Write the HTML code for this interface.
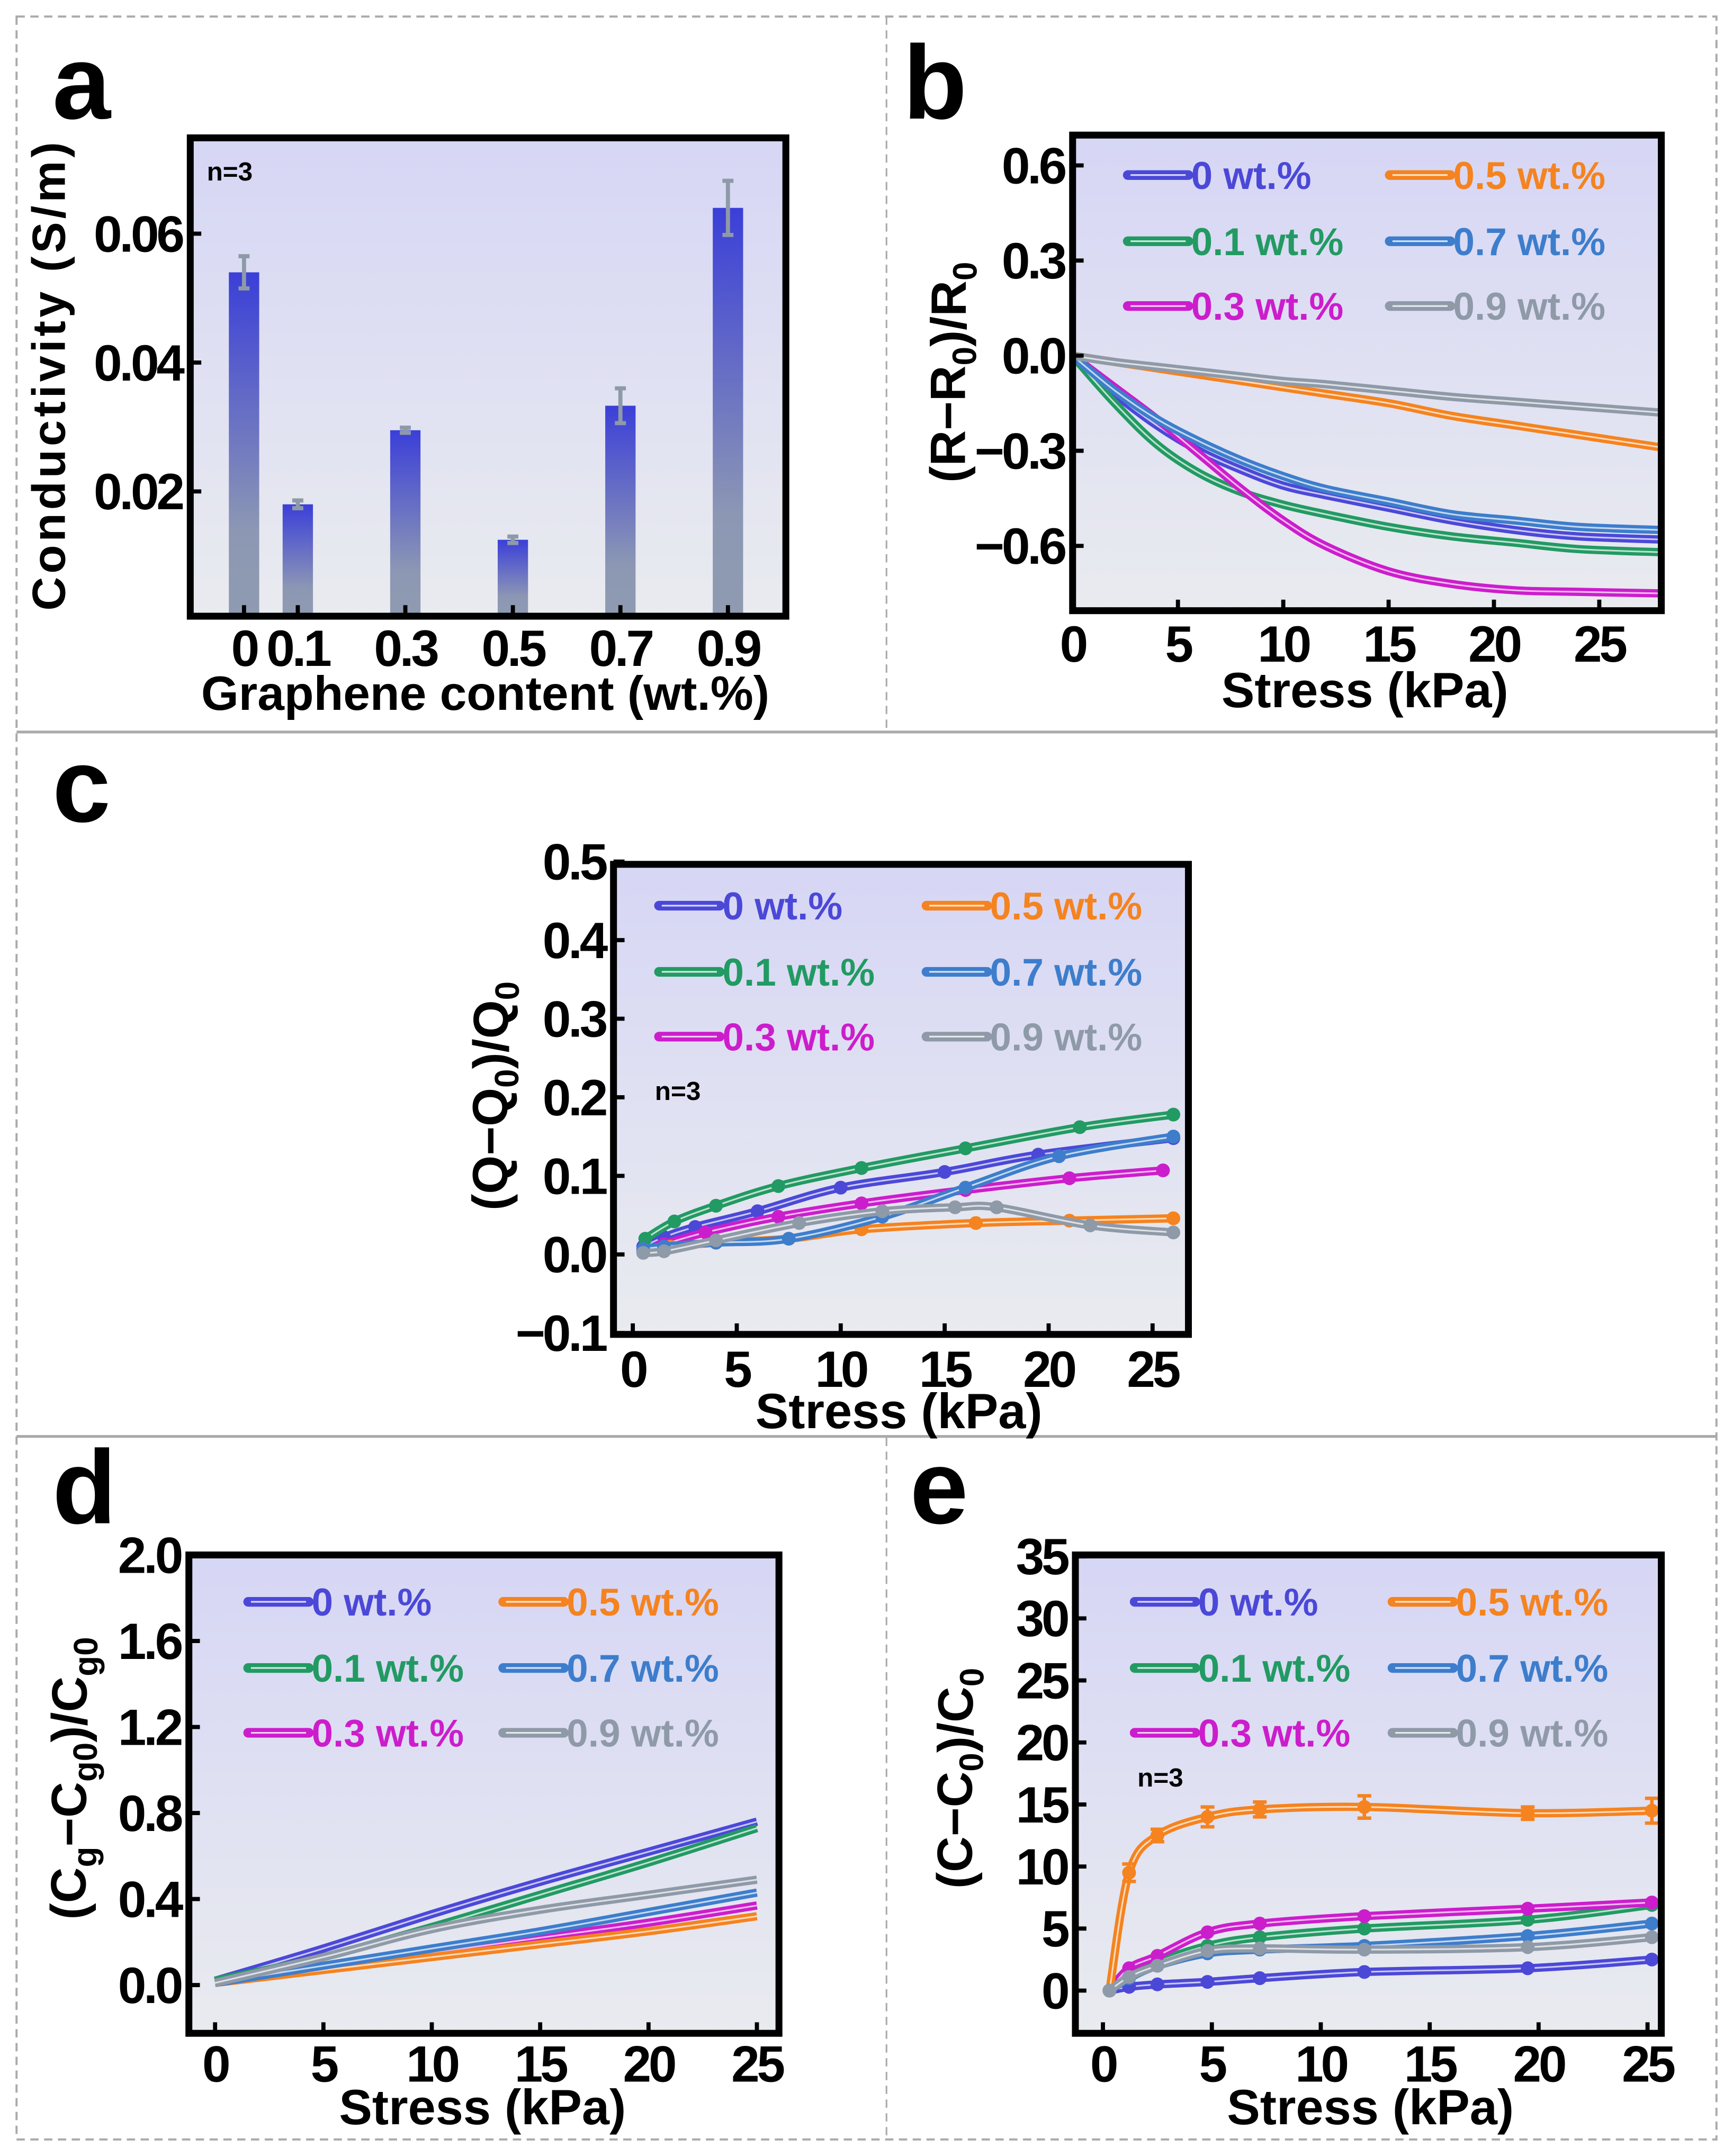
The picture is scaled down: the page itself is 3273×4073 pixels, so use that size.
<!DOCTYPE html>
<html><head><meta charset="utf-8">
<style>
html,body{margin:0;padding:0;background:#fff;}
svg{display:block;}
text{font-family:"Liberation Sans",Arial,sans-serif;font-weight:bold;}
</style></head>
<body>
<svg id="fig" xmlns="http://www.w3.org/2000/svg" width="3273" height="4073" viewBox="0 0 1257 1564" preserveAspectRatio="none">
<defs>
<linearGradient id="bg" x1="0" y1="0" x2="0" y2="1"><stop offset="0" stop-color="#d6d6f5"/><stop offset="1" stop-color="#e9ebef"/></linearGradient>
<linearGradient id="barg" x1="0" y1="0" x2="0" y2="1"><stop offset="0" stop-color="#3b3fd8"/><stop offset="0.75" stop-color="#8c97b4"/><stop offset="1" stop-color="#8f9bb0"/></linearGradient>
</defs>
<g fill="none">
<rect x="12" y="12" width="1233" height="1540" stroke="#aaa" stroke-width="1.5" stroke-dasharray="6,4"/>
<line x1="643" y1="12" x2="643" y2="532" stroke="#aaa" stroke-width="1.2" stroke-dasharray="6,4"/>
<line x1="643" y1="1043" x2="643" y2="1552" stroke="#aaa" stroke-width="1.2" stroke-dasharray="6,4"/>
<line x1="12" y1="531" x2="1245" y2="531" stroke="#aaa" stroke-width="2"/>
<line x1="12" y1="1042" x2="1245" y2="1042" stroke="#aaa" stroke-width="2"/>
</g>
</svg>
<script>
// ---------- Panel a data ----------
const aCats = [0, 0.1, 0.3, 0.5, 0.7, 0.9];
const aVals = [0.054, 0.018, 0.0295, 0.0125, 0.0333, 0.064];
const aErr = [0.0025, 0.0006, 0.0004, 0.0005, 0.0027, 0.0042];
const aYTicks = [0.02, 0.04, 0.06];
const aYTickLabels = ["0.02", "0.04", "0.06"];
const aXTickLabels = ["0", "0.1", "0.3", "0.5", "0.7", "0.9"];

// ---------- Legend ----------
const seriesNames = ["0 wt.%", "0.1 wt.%", "0.3 wt.%", "0.5 wt.%", "0.7 wt.%", "0.9 wt.%"];
const seriesColors = ["#4b48d8", "#229a63", "#cc1dcc", "#f5831f", "#3d7dcc", "#8f9aa8"];

// ---------- Panel b data ----------
const bX = [0, 2, 4, 6, 8, 10, 12, 15, 18, 21, 24, 28];
const bY0 = [0, -0.12, -0.22, -0.3, -0.36, -0.41, -0.44, -0.48, -0.52, -0.55, -0.57, -0.58];
const bY1 = [0, -0.15, -0.28, -0.37, -0.43, -0.47, -0.5, -0.54, -0.57, -0.59, -0.61, -0.62];
const bY3 = [0, -0.1, -0.2, -0.31, -0.42, -0.52, -0.6, -0.68, -0.72, -0.74, -0.745, -0.75];
const bY5 = [0, -0.02, -0.04, -0.06, -0.08, -0.1, -0.12, -0.15, -0.19, -0.22, -0.25, -0.29];
const bY7 = [0, -0.11, -0.2, -0.27, -0.33, -0.38, -0.42, -0.46, -0.5, -0.52, -0.54, -0.55];
const bY9 = [0, -0.02, -0.035, -0.05, -0.065, -0.08, -0.09, -0.11, -0.13, -0.145, -0.16, -0.18];
const bYTicks = [0.6, 0.3, 0, -0.3, -0.6];
const bYTickLabels = ["0.6", "0.3", "0.0", "\u22120.3", "\u22120.6"];
const bXTicks = [0, 5, 10, 15, 20, 25];

// ---------- Panel c data ----------
const cX0 = [0.5, 1.5, 3, 6, 10, 15, 19.5, 26];
const cY0 = [0.01, 0.022, 0.035, 0.055, 0.085, 0.105, 0.127, 0.148];
const cX1 = [0.6, 2, 4, 7, 11, 16, 21.5, 26];
const cY1 = [0.02, 0.042, 0.062, 0.087, 0.11, 0.135, 0.162, 0.178];
const cX3 = [0.5, 1.5, 3.5, 7, 11, 16, 21, 25.5];
const cY3 = [0.005, 0.013, 0.028, 0.048, 0.065, 0.082, 0.097, 0.107];
const cX5 = [0.5, 1.8, 4, 7.5, 11, 16.5, 21, 26];
const cY5 = [0.004, 0.01, 0.015, 0.02, 0.032, 0.04, 0.043, 0.046];
const cX7 = [0.5, 1.5, 4, 7.5, 12, 16, 20.5, 26];
const cY7 = [0.007, 0.01, 0.015, 0.02, 0.048, 0.085, 0.125, 0.15];
const cX9 = [0.5, 1.5, 4, 8, 12, 15.5, 17.5, 22, 26];
const cY9 = [0.002, 0.004, 0.018, 0.04, 0.055, 0.06, 0.06, 0.037, 0.028];
const cYTicks = [0.5, 0.4, 0.3, 0.2, 0.1, 0, -0.1];
const cYTickLabels = ["0.5", "0.4", "0.3", "0.2", "0.1", "0.0", "\u22120.1"];
const cXTicks = [0, 5, 10, 15, 20, 25];

// ---------- Panel d data ----------
const dX = [0, 5, 10, 15, 20, 25];
const dY0 = [0.02, 0.17, 0.33, 0.48, 0.62, 0.76];
const dY1 = [0.02, 0.13, 0.27, 0.42, 0.57, 0.73];
const dY3 = [0.01, 0.08, 0.15, 0.22, 0.29, 0.37];
const dY5 = [0.01, 0.07, 0.13, 0.19, 0.25, 0.32];
const dY7 = [0.01, 0.09, 0.17, 0.25, 0.34, 0.43];
const dY9 = [0.01, 0.13, 0.26, 0.35, 0.42, 0.49];
const dYTicks = [2.0, 1.6, 1.2, 0.8, 0.4, 0.0];
const dYTickLabels = ["2.0", "1.6", "1.2", "0.8", "0.4", "0.0"];
const dXTicks = [0, 5, 10, 15, 20, 25];

// ---------- Panel e data ----------
const eX = [0.3, 1.2, 2.5, 4.8, 7.2, 12, 19.5, 25.2];
const eY0 = [0, 0.3, 0.5, 0.7, 1.0, 1.5, 1.8, 2.5];
const eY1 = [0, 1.2, 2.3, 3.6, 4.3, 5.0, 5.7, 6.9];
const eY3 = [0, 1.8, 2.8, 4.7, 5.4, 6.0, 6.6, 7.1];
const eY5 = [0, 9.5, 12.5, 14.0, 14.6, 14.8, 14.3, 14.5];
const eE5 = [0, 0.7, 0.5, 0.8, 0.6, 0.9, 0.5, 1.0];
const eY7 = [0, 1.0, 2.0, 3.0, 3.3, 3.6, 4.4, 5.4];
const eY9 = [0, 1.1, 2.0, 3.2, 3.4, 3.3, 3.5, 4.3];
const eYTicks = [35, 30, 25, 20, 15, 10, 5, 0];
const eYTickLabels = ["35", "30", "25", "20", "15", "10", "5", "0"];
const eXTicks = [0, 5, 10, 15, 20, 25];

const NS = "http://www.w3.org/2000/svg";
const svg = document.getElementById("fig");
function mk(tag, attrs, parent) {
  const e = document.createElementNS(NS, tag);
  for (const k in attrs) e.setAttribute(k, attrs[k]);
  (parent || svg).appendChild(e);
  return e;
}
function lin(d0, d1, r0, r1) { return v => r0 + (v - d0) * (r1 - r0) / (d1 - d0); }
function smoothPath(pts) {
  let d = "M" + pts[0][0] + "," + pts[0][1];
  for (let i = 0; i < pts.length - 1; i++) {
    const p0 = pts[Math.max(0, i - 1)], p1 = pts[i], p2 = pts[i + 1], p3 = pts[Math.min(pts.length - 1, i + 2)];
    const c1x = p1[0] + (p2[0] - p0[0]) / 6, c1y = p1[1] + (p2[1] - p0[1]) / 6;
    const c2x = p2[0] - (p3[0] - p1[0]) / 6, c2y = p2[1] - (p3[1] - p1[1]) / 6;
    d += " C" + c1x + "," + c1y + " " + c2x + "," + c2y + " " + p2[0] + "," + p2[1];
  }
  return d;
}
function frame(g, x0, y0, x1, y1) {
  const bgr = mk("rect", {x: x0, y: y0, width: x1 - x0, height: y1 - y0, fill: "url(#bg)"}, g);
  
  
}
function border(g, x0, y0, x1, y1) {
  const r = mk("rect", {x: x0, y: y0, width: x1 - x0, height: y1 - y0, fill: "none", stroke: "#000", "stroke-width": 5}, g);
  
  
}
function label(txt, x, y) {
  const t = mk("text", {x: x, y: y, "font-size": 76});
  t.textContent = txt;
  
  
}
function yTicks(g, ys, labels, vals, xLeft) {
  vals.forEach((v, i) => {
    const y = ys(v);
    const tk = mk("line", {x1: xLeft, x2: xLeft + 8, y1: y, y2: y, stroke: "#000", "stroke-width": 3}, g);
    
    
    const t = mk("text", {x: xLeft - 6, y: y + 13, "font-size": 37, "text-anchor": "end", "letter-spacing": -2}, g);
    t.textContent = labels[i];
    
    
  });
}
function xTicks(g, xs, vals, labels, yBottom, ly) {
  vals.forEach((v, i) => {
    const x = xs(v);
    const tk = mk("line", {x1: x, x2: x, y1: yBottom, y2: yBottom - 8, stroke: "#000", "stroke-width": 3}, g);
    
    
    const t = mk("text", {x: x, y: ly, "font-size": 37, "text-anchor": "middle", "letter-spacing": -2}, g);
    t.textContent = labels ? labels[i] : String(v);
    
    
  });
}
function legend(g, rows, c1, c2) {
  seriesNames.forEach((n, i) => {
    const col = i < 3 ? c1 : c2, y = rows[i % 3];
    const lg = mk("g", {}, g);
    
    
    mk("line", {x1: col, x2: col + 44, y1: y, y2: y, stroke: seriesColors[i], "stroke-width": 7, "stroke-linecap": "round"}, lg);
    mk("line", {x1: col + 2, x2: col + 42, y1: y, y2: y, stroke: "#fff", "stroke-width": 1.2, opacity: 0.8}, lg);
    const t = mk("text", {x: col + 46, y: y + 10, "font-size": 28, fill: seriesColors[i]}, lg);
    t.textContent = n;
  });
}
function series(g, xs, ys, X, Y, color, name, markers, err) {
  const sg = mk("g", {}, g);
  
  
  const pts = X.map((x, i) => [xs(x), ys(Y[i])]);
  const d = smoothPath(pts);
  mk("path", {d: d, fill: "none", stroke: color, "stroke-width": 6, "stroke-linejoin": "round"}, sg);
  mk("path", {d: d, fill: "none", stroke: "#fff", "stroke-width": 1.2, opacity: 0.7}, sg);
  if (err) {
    pts.forEach((p, i) => {
      if (!err[i]) return;
      const e0 = ys(Y[i] + err[i]), e1 = ys(Y[i] - err[i]);
      mk("path", {d: "M" + p[0] + "," + e0 + "V" + e1 + "M" + (p[0] - 5) + "," + e0 + "h10M" + (p[0] - 5) + "," + e1 + "h10", stroke: color, "stroke-width": 2.5, fill: "none"}, sg);
    });
  }
  if (markers) pts.forEach(p => mk("circle", {cx: p[0], cy: p[1], r: 5, fill: color}, sg));
}
function ytitle(g, x, y, parts, size, len) {
  const t = mk("text", {transform: "translate(" + x + "," + y + ") rotate(-90)", "font-size": size, "text-anchor": "middle"}, g);
  if (len) t.setAttribute("textLength", len);
  parts.forEach(p => {
    const s = mk("tspan", p[1] ? {"font-size": size * 0.68, dy: size * 0.22} : {dy: p[2] || 0}, t);
    s.textContent = p[0];
  });
  
  
  return t;
}
function xtitle(g, x, y, txt, size) {
  const t = mk("text", {x: x, y: y, "font-size": size, "text-anchor": "middle"}, g);
  t.textContent = txt;
  
  
}
function note(g, x, y) {
  const t = mk("text", {x: x, y: y, "font-size": 19}, g);
  t.textContent = "n=3";
  
  
}

// ===== Panel a =====
(function () {
  const g = mk("g", {});
  
  
  const x0 = 138, y0 = 100, x1 = 570, y1 = 447;
  const xs = lin(0, 0.9, 177, 528), ys = lin(0, 0.02, 450, 356.5);
  frame(g, x0, y0, x1, y1);
  aCats.forEach((c, i) => {
    const x = xs(c), w = 22;
    const b = mk("rect", {x: x - w / 2, y: ys(aVals[i]), width: w, height: y1 - ys(aVals[i]), fill: "url(#barg)"}, g);
    
    
    const e0 = ys(aVals[i] + aErr[i]), e1 = ys(aVals[i] - aErr[i]);
    const eb = mk("path", {d: "M" + x + "," + e0 + "V" + e1 + "M" + (x - 4) + "," + e0 + "h8M" + (x - 4) + "," + e1 + "h8", stroke: "#8f9aa8", "stroke-width": 3, fill: "none"}, g);
    
    
  });
  note(g, 150, 131);
  border(g, x0, y0, x1, y1);
  yTicks(g, ys, aYTickLabels, aYTicks, x0);
  xTicks(g, xs, aCats, aXTickLabels, y1, 483);
  ytitle(g, 47, 273, [["Conductivity (S/m)"]], 34, 340);
  xtitle(g, 352, 515, "Graphene content (wt.%)", 35);
})();
label("a", 38, 86);

// ===== Panel b =====
(function () {
  const g = mk("g", {});
  
  
  const x0 = 778, y0 = 98, x1 = 1205, y1 = 443;
  const xs = lin(0, 25, 778, 1160), ys = lin(0, 0.3, 258, 189);
  frame(g, x0, y0, x1, y1);
  legend(g, [127, 175, 222], 818, 1008);
  const Ys = [bY0, bY1, bY3, bY5, bY7, bY9];
  Ys.forEach((Y, i) => series(g, xs, ys, bX, Y, seriesColors[i], 'series-' + seriesNames[i].split(' ')[0], false));
  border(g, x0, y0, x1, y1);
  yTicks(g, ys, bYTickLabels, bYTicks, x0);
  xTicks(g, xs, bXTicks, null, y1, 480);
  ytitle(g, 700, 270, [["(R\u2212R"], ["0", true], [")/R", false, -7.5], ["0", true]], 36);
  xtitle(g, 990, 513, "Stress (kPa)", 36);
})();
label("b", 655, 86);

// ===== Panel c =====
(function () {
  const g = mk("g", {});
  
  
  const x0 = 445, y0 = 627, x1 = 862, y1 = 968;
  const xs = lin(0, 25, 459, 836), ys = lin(0, 0.1, 910, 853);
  frame(g, x0, y0, x1, y1);
  legend(g, [657, 705, 752], 478, 672);
  note(g, 475, 798);
  const Xs = [cX0, cX1, cX3, cX5, cX7, cX9], Ys = [cY0, cY1, cY3, cY5, cY7, cY9];
  Ys.forEach((Y, i) => series(g, xs, ys, Xs[i], Y, seriesColors[i], 'series-' + seriesNames[i].split(' ')[0], true));
  border(g, x0, y0, x1, y1);
  yTicks(g, ys, cYTickLabels, cYTicks, x0);
  xTicks(g, xs, cXTicks, null, y1, 1006);
  ytitle(g, 368, 795, [["(Q\u2212Q"], ["0", true], [")/Q", false, -7.5], ["0", true]], 36);
  xtitle(g, 652, 1036, "Stress (kPa)", 36);
})();
label("c", 38, 596);

// ===== Panel d =====
(function () {
  const g = mk("g", {});
  
  
  const x0 = 137, y0 = 1128, x1 = 565, y1 = 1475;
  const xs = lin(0, 25, 156, 549), ys = lin(0, 0.4, 1440, 1377.6);
  frame(g, x0, y0, x1, y1);
  legend(g, [1162, 1210, 1257], 180, 365);
  const Ys = [dY0, dY1, dY3, dY5, dY7, dY9];
  Ys.forEach((Y, i) => series(g, xs, ys, dX, Y, seriesColors[i], 'series-' + seriesNames[i].split(' ')[0], false));
  border(g, x0, y0, x1, y1);
  yTicks(g, ys, dYTickLabels, dYTicks, x0);
  xTicks(g, xs, dXTicks, null, y1, 1510);
  ytitle(g, 62, 1290, [["(C"], ["g", true], ["\u2212C", false, -7.5], ["g0", true], [")/C", false, -7.5], ["g0", true]], 36);
  xtitle(g, 350, 1541, "Stress (kPa)", 36);
})();
label("d", 38, 1105);

// ===== Panel e =====
(function () {
  const g = mk("g", {});
  
  
  const x0 = 780, y0 = 1128, x1 = 1205, y1 = 1475;
  const xs = lin(0, 25, 800, 1195), ys = lin(0, 5, 1444, 1399);
  frame(g, x0, y0, x1, y1);
  legend(g, [1162, 1210, 1257], 823, 1010);
  note(g, 825, 1296);
  const Ys = [eY0, eY1, eY3, eY5, eY7, eY9];
  Ys.forEach((Y, i) => series(g, xs, ys, eX, Y, seriesColors[i], 'series-' + seriesNames[i].split(' ')[0], true, i === 3 ? eE5 : null));
  border(g, x0, y0, x1, y1);
  yTicks(g, ys, eYTickLabels, eYTicks, x0);
  xTicks(g, xs, eXTicks, null, y1, 1510);
  ytitle(g, 705, 1290, [["(C\u2212C"], ["0", true], [")/C", false, -7.5], ["0", true]], 36);
  xtitle(g, 994, 1541, "Stress (kPa)", 36);
})();
label("e", 660, 1105);
</script>
</body></html>
